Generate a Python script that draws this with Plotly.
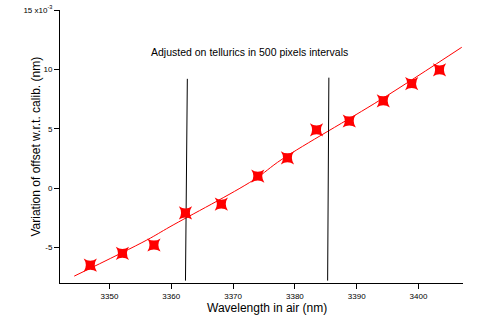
import plotly.graph_objects as go

# Measured offsets (red star markers)
wavelength = [3346.9, 3352.1, 3357.2, 3362.3, 3368.1, 3374.0, 3378.8, 3383.5, 3388.8, 3394.3, 3398.9, 3403.4]
offset = [-6.5, -5.5, -4.8, -2.1, -1.35, 1.0, 2.55, 4.9, 5.65, 7.35, 8.8, 9.95]

# Fitted curve (red line)
fit_x = [3344.3, 3356.05, 3359.8, 3373.3, 3377.9, 3393.8, 3407.0]
fit_y = [-7.42, -4.38, -3.26, 0.67, 2.42, 7.42, 11.86]

# Interval boundaries (black vertical lines)
bound1_x = [3362.3, 3362.6]
bound1_y = [-7.8, 9.2]
bound2_x = [3385.3, 3385.5]
bound2_y = [-7.8, 9.3]

y_tickvals = [-5, 0, 5, 10, 15]
y_ticktext = ["-5", "0", "5", "10", "15 x10<sup>-3</sup>"]
x_tickvals = [3350, 3360, 3370, 3380, 3390, 3400]

fig = go.Figure()
fig.add_trace(go.Scatter(x=fit_x, y=fit_y, mode="lines", line=dict(color="#ff0000", width=1, shape="spline"),
                         showlegend=False))
fig.add_trace(go.Scatter(x=bound1_x, y=bound1_y, mode="lines", line=dict(color="#000000", width=1), showlegend=False))
fig.add_trace(go.Scatter(x=bound2_x, y=bound2_y, mode="lines", line=dict(color="#000000", width=1), showlegend=False))
fig.add_trace(go.Scatter(x=wavelength, y=offset, mode="markers",
                         marker=dict(symbol="star-square", size=12, color="#ff0000", line=dict(width=0)),
                         showlegend=False))

fig.add_annotation(x=3372.7, y=11.5, text="Adjusted on tellurics in 500 pixels intervals", showarrow=False,
                   font=dict(size=10.5, color="#000000"), xanchor="center", yanchor="middle")
fig.add_annotation(xref="paper", yref="paper", x=0.513, y=0, yshift=-25, text="Wavelength in air (nm)",
                   showarrow=False, font=dict(size=12, color="#000000"), xanchor="center", yanchor="middle")
fig.add_annotation(xref="paper", yref="paper", x=0, y=0.5, xshift=-25, textangle=-90,
                   text="Variation of offset w.r.t. calib. (nm)",
                   showarrow=False, font=dict(size=12, color="#000000"), xanchor="center", yanchor="middle")

fig.update_layout(
    width=488, height=315,
    margin=dict(l=60, r=25, t=10, b=32, autoexpand=False),
    paper_bgcolor="white", plot_bgcolor="white",
    font=dict(family="Liberation Sans, Arial, sans-serif", color="#000000"),
)
fig.update_xaxes(range=[3342.0, 3407.2], tickvals=x_tickvals, ticks="outside", ticklen=5, tickwidth=1,
                 tickcolor="#000", showline=True, linecolor="#000", linewidth=1, showgrid=False, zeroline=False,
                 automargin=False, tickfont=dict(size=8))
fig.update_yaxes(range=[-8.0, 15.0], tickvals=y_tickvals, ticktext=y_ticktext, ticks="outside", ticklen=5,
                 tickwidth=1, tickcolor="#000", showline=True, linecolor="#000", linewidth=1, showgrid=False,
                 zeroline=False, automargin=False, tickfont=dict(size=8), ticklabeloverflow="allow")

fig.write_html("out.html", config={"displayModeBar": False},
               post_script="document.body.style.margin='0';")
